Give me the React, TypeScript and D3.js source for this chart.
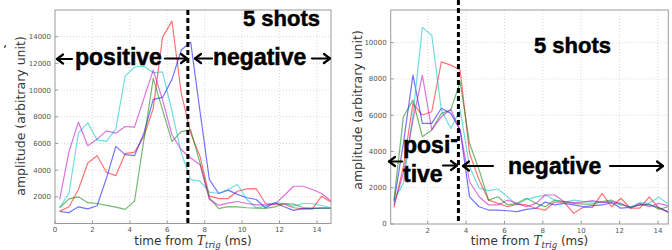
import React from "react";
import * as d3 from "d3";

// sample times (ms) for each panel
const leftTimes = [
  0.25, 0.75, 1.25, 1.75, 2.25, 2.75, 3.25, 3.75, 4.25, 4.75, 5.25, 5.75, 6.25, 6.75, 7.25,
  7.75, 8.25, 8.75, 9.25, 9.75, 10.25, 10.75, 11.25, 11.75, 12.25, 12.75, 13.25, 13.75, 14.25, 14.75,
];
const rightTimes = [
  0.24, 0.73, 1.23, 1.72, 2.21, 2.71, 3.2, 3.69, 4.18, 4.68, 5.17, 5.66, 6.16, 6.65, 7.14,
  7.64, 8.13, 8.62, 9.11, 9.61, 10.1, 10.59, 11.09, 11.58, 12.07, 12.57, 13.06, 13.55, 14.04, 14.54,
];

// left panel shots
const leftRed = [
  930, 1250, 2550, 4530, 5080, 3840, 3590, 5230, 5350, 6520, 8630, 13970, 15170, 9750, 6770,
  5030, 2050, 1870, 1870, 2420, 2600, 2620, 1500, 1450, 1450, 1180, 1100, 1100, 2050, 1600,
];
const leftBlue = [
  900, 820, 1250, 1100, 1330, 3400, 5780, 5160, 5080, 6770, 9300, 9450, 10800, 13000, 13600,
  8400, 3290, 2250, 2500, 2180, 1930, 1800, 1180, 1560, 1260, 980, 1110, 1110, 1150, 1150,
];
const leftGreen = [
  1180, 1850, 2000, 1560, 1500, 1360, 1230, 1060, 1680, 6270, 10870, 8500, 6150, 6890, 7020,
  4540, 1930, 1110, 1260, 1250, 1180, 1150, 1130, 1250, 1500, 1450, 1200, 1150, 1150, 1150,
];
const leftCyan = [
  1180, 2300, 6770, 7560, 6270, 6150, 7070, 11040, 11730, 11800, 11290, 11360, 8400, 5280, 3290,
  3170, 2350, 2250, 2550, 2920, 1800, 1180, 1300, 1550, 1500, 1300, 1500, 1500, 1350, 1180,
];
const leftMagenta = [
  1800, 5400, 7600, 5830, 6320, 6940, 6770, 7270, 7220, 9380, 11490, 9250, 6650, 5530, 4910,
  4410, 1800, 1360, 1530, 1650, 1500, 1400, 1400, 1450, 2100, 2790, 2790, 2550, 2250, 1680,
];

// right panel shots
const rightRed = [
  920, 3160, 6650, 6010, 6190, 8940, 8760, 8490, 3900, 2420, 1320, 1140, 950, 1100, 1050,
  870, 770, 1210, 1210, 590, 920, 920, 1690, 950, 1420, 870, 870, 1500, 870, 680,
];
const rightBlue = [
  1210, 4450, 8210, 5550, 5550, 6380, 6100, 5180, 1500, 950, 770, 770, 730, 680, 810,
  870, 1210, 1050, 1140, 1050, 950, 1010, 1050, 1180, 870, 920, 1050, 1050, 920, 640,
];
const rightGreen = [
  1320, 5910, 6830, 4810, 5180, 6100, 6280, 7840, 4450, 2980, 1320, 1500, 1050, 1140, 1420,
  1140, 950, 1320, 1230, 1140, 1100, 1100, 1230, 1320, 1050, 950, 1050, 1100, 810, 950,
];
const rightCyan = [
  1320, 2240, 6000, 10840, 10410, 6280, 5270, 6280, 3160, 1970, 1840, 1930, 1500, 1050, 1360,
  1500, 1600, 1320, 1200, 1320, 1250, 1210, 1230, 1140, 1100, 920, 1180, 1140, 1470, 1100,
];
const rightMagenta = [
  1050, 2790, 5730, 8200, 5200, 5910, 6320, 5180, 2330, 1500, 1050, 1050, 1320, 1140, 950,
  1140, 1600, 1600, 1230, 1180, 1210, 1290, 1180, 1230, 1140, 870, 1140, 950, 1140, 1000,
];

const leftXTicks = [0, 2, 4, 6, 8, 10, 12, 14];
const leftYTicks = [2000, 4000, 6000, 8000, 10000, 12000, 14000];
const rightXTicks = [2, 4, 6, 8, 10, 12, 14];
const rightYTicks = [0, 2000, 4000, 6000, 8000, 10000];

const leftTrig = 7.1;
const rightTrig = 3.6;

const shotColors = ["#ff0000", "#0000ff", "#008000", "#00bfbf", "#bf00bf"];

interface PanelProps {
  id: string;
  times: number[];
  series: number[][];
  xDomain: [number, number];
  yDomain: [number, number];
  box: { left: number; right: number; top: number; bottom: number };
  xTicks: number[];
  yTicks: number[];
  trig: number;
  trigTop: number;
  yLabelX: number;
  yLabelY: number;
}

const Panel: React.FC<PanelProps> = ({
  id,
  times,
  series,
  xDomain,
  yDomain,
  box,
  xTicks,
  yTicks,
  trig,
  trigTop,
  yLabelX,
  yLabelY,
}) => {
  const x = d3.scaleLinear().domain(xDomain).range([box.left, box.right]);
  const y = d3.scaleLinear().domain(yDomain).range([box.bottom, box.top]);
  const line = d3
    .line<number>()
    .x((_, i) => x(times[i]))
    .y((d) => y(d));
  const w = box.right - box.left;
  const h = box.bottom - box.top;

  return (
    <g>
      <defs>
        <clipPath id={`clip-${id}`}>
          <rect x={box.left} y={box.top} width={w} height={h} />
        </clipPath>
      </defs>
      {/* grid */}
      {xTicks
        .filter((t) => t > xDomain[0])
        .map((t) => (
          <line
            key={`gx${t}`}
            x1={x(t)}
            x2={x(t)}
            y1={box.top}
            y2={box.bottom}
            stroke="#c8c8c8"
            strokeWidth={0.7}
            strokeDasharray="1,2"
          />
        ))}
      {yTicks
        .filter((t) => t > yDomain[0])
        .map((t) => (
          <line
            key={`gy${t}`}
            x1={box.left}
            x2={box.right}
            y1={y(t)}
            y2={y(t)}
            stroke="#c8c8c8"
            strokeWidth={0.7}
            strokeDasharray="1,2"
          />
        ))}
      {/* shots */}
      <g clipPath={`url(#clip-${id})`}>
        {series.map((s, i) => (
          <path
            key={i}
            d={line(s) ?? ""}
            fill="none"
            stroke={shotColors[i]}
            strokeOpacity={0.55}
            strokeWidth={1.2}
            strokeLinejoin="round"
          />
        ))}
      </g>
      {/* frame */}
      <rect x={box.left} y={box.top} width={w} height={h} fill="none" stroke="#9a9a9a" strokeWidth={1} />
      {/* ticks */}
      {xTicks.map((t) => (
        <g key={`tx${t}`}>
          <line x1={x(t)} x2={x(t)} y1={box.bottom} y2={box.bottom - 3} stroke="#9a9a9a" />
          <text
            x={x(t)}
            y={box.bottom + 8.5}
            textAnchor="middle"
            fontSize={7}
            fontFamily="DejaVu Sans"
            fill="#555"
          >
            {t}
          </text>
        </g>
      ))}
      {yTicks.map((t) => (
        <g key={`ty${t}`}>
          <line x1={box.left} x2={box.left + 3} y1={y(t)} y2={y(t)} stroke="#9a9a9a" />
          <text
            x={box.left - 4}
            y={y(t)}
            dy="0.35em"
            textAnchor="end"
            fontSize={7}
            fontFamily="DejaVu Sans"
            fill="#555"
          >
            {t}
          </text>
        </g>
      ))}
      {/* trigger line */}
      <line
        x1={x(trig)}
        x2={x(trig)}
        y1={trigTop}
        y2={box.bottom}
        stroke="#000"
        strokeWidth={3}
        strokeDasharray="5,3"
      />
      {/* axis labels */}
      <text
        x={box.left + w / 2}
        y={245}
        textAnchor="middle"
        fontSize={12}
        fontFamily="DejaVu Sans"
        fill="#333"
      >
        time from{" "}
        <tspan fontFamily="DejaVu Serif" fontStyle="italic">
          T
        </tspan>
        <tspan fontFamily="DejaVu Serif" fontStyle="italic" fontSize={8.5} dy={3}>
          trig
        </tspan>
        <tspan dy={-3}> (ms)</tspan>
      </text>
      <text
        transform={`translate(${yLabelX},${yLabelY}) rotate(-90)`}
        textAnchor="middle"
        fontSize={12.5}
        fontFamily="DejaVu Sans"
        fill="#333"
      >
        amplitude (arbitrary unit)
      </text>
    </g>
  );
};

const Arrow: React.FC<{ x1: number; x2: number; y: number; head: "left" | "right" }> = ({
  x1,
  x2,
  y,
  head,
}) => {
  const tip = head === "left" ? x1 : x2;
  const back = head === "left" ? tip + 6 : tip - 6;
  return (
    <g stroke="#000" strokeWidth={2.2} fill="none" strokeLinecap="round" strokeLinejoin="round">
      <line x1={x1} x2={x2} y1={y} y2={y} />
      <path d={`M${back},${y - 4.5}L${tip},${y}L${back},${y + 4.5}`} />
    </g>
  );
};

const bold = {
  fontFamily: "Liberation Sans, Arial, sans-serif",
  fontWeight: 700,
  fill: "#000",
  stroke: "#000",
  strokeWidth: 0.5,
} as const;

export default function App() {
  return (
    <svg
      width={672}
      height={250}
      style={{ position: "absolute", left: 0, top: 0, display: "block", background: "#fff" }}
    >
      <Panel
        id="left"
        times={leftTimes}
        series={[leftRed, leftBlue, leftGreen, leftCyan, leftMagenta]}
        xDomain={[0, 14.75]}
        yDomain={[0, 16000]}
        box={{ left: 55, right: 331, top: 10, bottom: 223.5 }}
        xTicks={leftXTicks}
        yTicks={leftYTicks}
        trig={leftTrig}
        trigTop={10}
        yLabelX={25}
        yLabelY={116}
      />
      <Panel
        id="right"
        times={rightTimes}
        series={[rightRed, rightBlue, rightGreen, rightCyan, rightMagenta]}
        xDomain={[0.07, 14.54]}
        yDomain={[0, 11800]}
        box={{ left: 390.7, right: 668.3, top: 10, bottom: 224 }}
        xTicks={rightXTicks}
        yTicks={rightYTicks}
        trig={rightTrig}
        trigTop={0}
        yLabelX={362}
        yLabelY={110}
      />

      {/* stray mark at the left edge */}
      <text x={3} y={54} fontSize={12} fontFamily="DejaVu Sans" fill="#000">
        ʼ
      </text>

      {/* left annotations */}
      <text x={320} y={26} textAnchor="end" fontSize={22} {...bold}>
        5 shots
      </text>
      <Arrow x1={57} x2={72} y={59} head="left" />
      <text x={75} y={65} fontSize={23} {...bold}>
        positive
      </text>
      <Arrow x1={165} x2={187} y={58.5} head="right" />
      <Arrow x1={195} x2={212} y={58.5} head="left" />
      <text x={213} y={65} fontSize={23} {...bold}>
        negative
      </text>
      <Arrow x1={312} x2={330} y={58.5} head="right" />

      {/* right annotations */}
      <text x={534} y={53} fontSize={22} {...bold}>
        5 shots
      </text>
      <Arrow x1={389} x2={402} y={161.5} head="left" />
      <text x={403} y={153} fontSize={23} {...bold}>
        posi<tspan dy={-6}>-</tspan>
      </text>
      <text x={403} y={182} fontSize={23} {...bold}>
        tive
      </text>
      <Arrow x1={443} x2={457} y={165.5} head="right" />
      <Arrow x1={463} x2={493} y={166} head="left" />
      <text x={508} y={173.5} fontSize={23} {...bold}>
        negative
      </text>
      <Arrow x1={610} x2={663} y={166} head="right" />
    </svg>
  );
}
